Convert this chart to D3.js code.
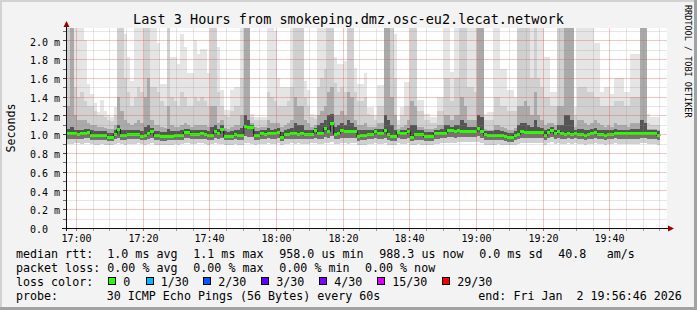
<!DOCTYPE html>
<html><head><meta charset="utf-8">
<script src="https://cdn.jsdelivr.net/npm/d3@7"></script>
<style>
html,body{margin:0;padding:0;background:#f3f3f3;}
svg{display:block;}
text{font-family:"DejaVu Sans Mono",monospace;white-space:pre;fill:#000;}
</style></head><body>
<svg id="c" width="697" height="310"></svg>
<script>
// ---- data (ms), one value per minute column from 16:57 ----
const medianRtt = [1.003,1.003,1.003,0.999,1.010,1.013,1.020,0.990,0.988,0.984,
0.984,0.984,0.967,0.967,0.999,1.049,0.988,0.988,0.999,0.999,
0.999,0.999,0.981,0.990,1.003,1.024,0.984,0.984,0.977,0.977,
0.981,0.981,0.985,0.988,0.990,1.017,1.017,0.999,0.999,0.999,
1.003,1.000,0.984,0.990,1.027,1.013,1.050,0.981,0.981,0.981,
1.000,0.988,0.988,1.084,1.070,1.070,0.990,0.990,1.003,0.999,
1.013,1.003,1.010,1.020,0.967,0.999,0.999,1.003,1.003,0.999,
1.006,0.995,0.995,0.999,1.038,1.010,1.010,1.060,1.034,1.115,
0.999,1.013,1.041,1.031,1.031,1.024,1.024,0.977,0.988,0.988,
0.999,0.999,1.024,1.006,1.006,1.041,0.995,0.977,0.977,1.017,
1.003,1.003,1.024,0.970,0.992,0.992,0.992,0.974,0.974,0.977,
1.006,1.006,1.013,1.013,1.041,1.041,1.027,1.038,1.031,1.031,
1.027,1.027,1.027,1.056,1.024,0.992,0.988,0.988,0.988,0.984,
0.984,0.974,0.960,0.963,0.985,0.999,1.024,1.017,1.017,1.017,
1.017,1.017,1.017,0.984,1.017,1.045,1.003,1.027,1.006,0.999,
1.013,0.995,1.013,0.999,0.999,0.984,0.999,1.006,1.020,0.999,
0.999,0.988,0.999,0.999,1.013,1.003,1.003,1.003,1.003,1.003,
1.003,1.003,1.013,1.010,1.003,1.003,1.003,0.988];

const minRtt = [.90,.90,.91,.91,.90,.91,.91,.90,.89,.89,
.90,.89,.88,.88,.90,.91,.90,.89,.90,.90,
.90,.91,.90,.89,.90,.91,.89,.89,.88,.89,
.89,.89,.90,.89,.90,.91,.91,.90,.90,.91,
.91,.90,.89,.90,.91,.90,.90,.89,.89,.89,
.90,.89,.89,.91,.91,.90,.89,.90,.90,.90,
.91,.90,.90,.91,.88,.90,.90,.91,.90,.91,
.90,.90,.90,.91,.91,.90,.90,.91,.91,.92,
.90,.90,.91,.91,.90,.91,.91,.88,.89,.89,
.90,.90,.91,.90,.90,.91,.89,.88,.88,.91,
.90,.90,.91,.89,.89,.90,.89,.89,.88,.88,
.90,.90,.91,.91,.91,.91,.91,.92,.92,.92,
.92,.92,.92,.92,.91,.89,.89,.89,.89,.90,
.89,.88,.88,.88,.89,.90,.91,.91,.91,.91,
.91,.91,.91,.89,.91,.92,.90,.91,.90,.90,
.91,.90,.91,.90,.90,.89,.90,.90,.91,.90,
.90,.89,.90,.90,.91,.90,.90,.90,.90,.90,
.90,.90,.91,.91,.90,.90,.90,.89];

const lowRtt = [.95,.95,.95,.95,.95,.96,.96,.94,.94,.94,
.94,.94,.93,.93,.95,.96,.94,.94,.95,.95,
.95,.95,.94,.94,.95,.96,.94,.94,.93,.93,
.94,.94,.94,.94,.94,.96,.96,.95,.95,.95,
.95,.95,.94,.94,.96,.95,.96,.94,.94,.94,
.95,.94,.94,.98,.97,.97,.94,.94,.95,.95,
.96,.95,.95,.96,.93,.95,.95,.95,.95,.95,
.95,.95,.95,.95,.96,.95,.95,.97,.96,.98,
.95,.95,.96,.96,.96,.96,.96,.93,.94,.94,
.95,.95,.96,.95,.95,.96,.94,.93,.93,.96,
.95,.95,.96,.93,.94,.94,.94,.93,.93,.93,
.95,.95,.96,.96,.97,.97,.96,.97,.97,.97,
.97,.97,.97,.98,.96,.94,.94,.94,.94,.94,
.94,.93,.92,.92,.94,.95,.96,.96,.96,.96,
.96,.96,.96,.94,.96,.97,.95,.96,.95,.95,
.96,.95,.96,.95,.95,.94,.95,.95,.96,.95,
.95,.94,.95,.95,.96,.95,.95,.95,.95,.95,
.95,.95,.96,.96,.95,.95,.95,.94];

const upper1 = [1.06,1.08,1.05,1.04,1.05,1.06,1.06,1.04,1.03,1.03,
1.03,1.03,1.01,1.01,1.04,1.1,1.05,1.04,1.04,1.04,
1.05,1.05,1.03,1.08,1.1,1.07,1.03,1.03,1.02,1.02,
1.06,1.03,1.03,1.03,1.04,1.06,1.06,1.04,1.05,1.05,
1.05,1.05,1.03,1.08,1.1,1.06,1.1,1.03,1.02,1.03,
1.05,1.04,1.07,1.2,1.15,1.1,1.03,1.03,1.05,1.05,
1.07,1.05,1.06,1.07,1.02,1.05,1.06,1.07,1.12,1.1,
1.1,1.05,1.05,1.04,1.07,1.1,1.12,1.15,1.2,1.22,
1.08,1.1,1.12,1.1,1.15,1.12,1.08,1.04,1.04,1.05,
1.04,1.04,1.06,1.06,1.06,1.2,1.15,1.1,1.05,1.03,
1.05,1.05,1.07,1.1,1.1,1.04,1.04,1.02,1.02,1.02,
1.04,1.05,1.06,1.1,1.1,1.08,1.1,1.1,1.15,1.12,
1.08,1.08,1.08,1.2,1.18,1.03,1.03,1.03,1.05,1.05,
1.03,1.02,1.01,1.01,1.03,1.1,1.12,1.12,1.1,1.08,
1.15,1.08,1.07,1.05,1.06,1.08,1.05,1.1,1.1,1.2,
1.2,1.15,1.05,1.06,1.06,1.04,1.05,1.06,1.07,1.05,
1.05,1.04,1.05,1.05,1.06,1.05,1.05,1.05,1.05,1.06,
1.06,1.06,1.15,1.12,1.04,1.04,1.04,1.03];

const upper2 = [1.3,2.3,1.2,1.15,1.15,1.15,1.12,1.1,1.1,1.08,
1.08,1.07,1.06,1.06,1.1,1.4,1.25,1.15,1.12,1.1,
1.12,1.15,1.12,1.4,1.6,1.15,1.1,1.1,1.08,1.07,
1.3,1.1,1.08,1.08,1.1,1.12,1.1,1.08,1.1,1.1,
1.1,1.1,1.08,1.3,1.3,1.12,1.15,1.07,1.06,1.08,
1.1,1.1,1.2,2.3,2.3,1.12,1.08,1.07,1.08,1.08,
1.15,1.12,1.12,1.12,1.08,1.1,1.12,1.15,1.4,1.3,
1.3,1.15,1.12,1.08,1.1,1.2,1.25,1.3,1.45,1.5,
1.2,1.2,1.25,1.2,1.45,1.4,1.15,1.1,1.1,1.12,
1.08,1.08,1.08,1.12,1.12,2.3,2.3,1.4,1.2,1.06,
1.08,1.1,1.15,1.35,1.3,1.08,1.08,1.06,1.06,1.06,
1.07,1.1,1.1,1.2,1.2,1.15,1.2,1.2,1.4,1.3,
1.15,1.15,1.15,2.3,2.3,1.06,1.05,1.05,1.1,1.1,
1.08,1.07,1.05,1.05,1.07,1.3,1.3,1.35,1.3,1.2,
1.45,1.2,1.15,1.1,1.12,1.12,1.1,1.3,1.3,2.3,
2.3,2.3,1.08,1.15,1.15,1.12,1.1,1.12,1.15,1.12,
1.1,1.08,1.1,1.08,1.12,1.1,1.1,1.1,1.08,1.12,
1.12,1.12,2.3,2.3,1.06,1.06,1.06,1.05];

const upper3 = [2.3,2.3,1.5,1.4,1.45,1.35,1.3,1.3,1.25,1.2,
1.2,1.18,1.15,1.14,1.2,2.3,2.3,1.6,1.45,1.3,
1.4,1.5,1.45,2.3,2.3,1.5,1.5,1.45,1.35,1.3,
2.3,1.4,1.35,1.3,1.45,1.4,1.3,1.3,1.4,1.35,
1.4,1.35,1.3,2.3,2.3,1.45,1.3,1.2,1.18,1.25,
1.3,1.3,1.6,2.3,2.3,1.18,1.15,1.15,1.15,1.15,
1.45,1.4,1.35,1.3,1.3,1.3,1.35,1.5,2.3,2.3,
2.3,1.4,1.3,1.18,1.16,1.5,1.6,1.7,2.3,2.3,
1.55,1.45,1.5,1.45,2.3,2.3,1.45,1.35,1.35,1.4,
1.22,1.2,1.15,1.3,1.3,2.3,2.3,2.3,1.6,1.1,
1.2,1.3,1.3,2.3,2.3,1.25,1.25,1.15,1.15,1.12,
1.12,1.25,1.25,1.6,1.6,1.35,1.6,1.6,2.3,2.3,
1.5,1.5,1.45,2.3,2.3,1.15,1.15,1.15,1.4,1.4,
1.3,1.3,1.25,1.25,1.25,2.3,2.3,2.3,2.3,1.6,
2.3,1.6,1.5,1.4,1.4,1.3,1.3,2.3,2.3,2.3,
2.3,2.3,1.2,1.5,1.5,1.5,1.45,1.45,1.4,1.4,
1.3,1.3,1.3,1.3,1.35,1.35,1.35,1.3,1.3,1.4,
1.4,1.4,2.3,2.3,1.12,1.1,1.1,1.1];

const maxRtt = [2.3,2.3,2.3,2.3,2.3,2.0,1.54,1.43,1.33,1.24,
1.36,1.25,1.2,1.18,1.29,2.3,2.3,2.07,1.82,1.57,
2.3,2.3,2.3,2.3,2.3,2.3,2.3,1.97,1.54,1.54,
2.3,1.82,1.82,1.75,2.07,1.93,1.65,1.65,2.0,1.86,
1.91,1.91,1.65,2.3,2.3,1.93,1.47,1.26,1.26,1.47,
1.5,1.5,2.3,2.3,2.3,1.22,1.18,1.18,1.18,1.18,
2.3,2.3,2.1,1.6,1.5,1.5,1.5,2.3,2.3,2.3,
2.3,1.57,1.47,1.22,1.2,2.3,2.3,2.3,2.3,2.3,
1.82,1.75,1.75,1.78,2.3,2.3,1.71,1.54,1.54,1.65,
1.29,1.29,1.2,1.52,1.52,2.3,2.3,2.3,2.07,1.15,
1.29,1.56,1.56,2.3,2.3,1.36,1.36,1.22,1.22,1.18,
1.18,1.4,1.4,2.2,2.2,1.66,2.3,2.3,2.3,2.3,
2.3,2.3,2.3,2.3,2.3,1.22,1.24,1.24,2.3,2.3,
1.7,1.7,1.47,1.47,1.4,2.3,2.3,2.3,2.3,2.3,
2.3,2.3,2.3,1.82,1.82,1.45,1.45,2.3,2.3,2.3,
2.3,2.3,1.29,2.3,2.3,2.3,2.3,2.3,1.97,1.97,
1.45,1.5,1.5,1.43,1.6,1.6,1.6,1.45,1.45,1.86,
1.86,1.86,2.3,2.3,1.22,1.18,1.18,1.18];

const yTickValues = [0,0.2,0.4,0.6,0.8,1.0,1.2,1.4,1.6,1.8,2.0];
const xTickLabels = ["17:00","17:20","17:40","18:00","18:20","18:40","19:00","19:20","19:40"];
const lossLabels = ["0","1/30","2/30","3/30","4/30","15/30","29/30"];
const lossColors = ["#26ff00","#00b8ff","#0059ff","#5e00ff","#7e00ff","#dd00ff","#ff0000"];
const rttStats = ["1.0 ms avg","1.1 ms max","958.0 us min","988.3 us now","0.0 ms sd","40.8","am/s"];
const lossStats = ["0.00 % avg","0.00 % max","0.00 % min","0.00 % now"];

// ---- drawing ----
const svg = d3.select("#c");
const X0 = 67, X1 = 667, Y0 = 228, Y1 = 28;
const startTime = new Date(2026,0,2,16,57,0), endTime = new Date(2026,0,2,19,57,0);
const x = d3.scaleTime().domain([startTime,endTime]).range([X0,X1]);
const y = d3.scaleLinear().domain([0,2.133333]).range([Y0,Y1]);

svg.append("rect").attr("width",697).attr("height",310).attr("fill","#f3f3f3");
svg.append("rect").attr("x",0).attr("y",0).attr("width",697).attr("height",2).attr("fill","#d2d2d2");
svg.append("rect").attr("x",0).attr("y",0).attr("width",2).attr("height",310).attr("fill","#d2d2d2");
svg.append("rect").attr("x",0).attr("y",307).attr("width",697).attr("height",3).attr("fill","#a2a2a2");
svg.append("rect").attr("x",694).attr("y",0).attr("width",3).attr("height",310).attr("fill","#a2a2a2");

svg.append("rect").attr("x",X0).attr("y",Y1).attr("width",X1-X0).attr("height",Y0-Y1).attr("fill","#fff");
svg.append("defs").append("clipPath").attr("id","cp").append("rect")
  .attr("x",X0).attr("y",Y1).attr("width",X1-X0).attr("height",Y0-Y1);

const plot = svg.append("g").attr("clip-path","url(#cp)");
const layers = [
  [minRtt, lowRtt, "#d0d0d0"],
  [lowRtt, medianRtt, "#727272"],
  [medianRtt, upper1, "#555555"],
  [upper1, upper2, "#aaaaaa"],
  [upper2, upper3, "#d0d0d0"],
  [upper3, maxRtt, "#e5e5e5"]
];
const cols = d3.range(medianRtt.length);
const cx0 = k => x(d3.timeMinute.offset(startTime,k));
const cx1 = k => x(d3.timeMinute.offset(startTime,k+1));
layers.forEach(([lo,hi,col]) => {
  plot.append("g").attr("shape-rendering","crispEdges").selectAll("rect")
    .data(cols.filter(k => hi[k] > lo[k])).join("rect")
    .attr("x",k=>cx0(k)).attr("width",k=>cx1(k)-cx0(k))
    .attr("y",k=>y(hi[k])).attr("height",k=>y(lo[k])-y(hi[k]))
    .attr("fill",col);
});

// median: dark step line + green loss-colour band
const stepPts = [];
cols.forEach(k => { stepPts.push([cx0(k), y(medianRtt[k])]); stepPts.push([cx1(k), y(medianRtt[k])]); });
plot.append("path").attr("d", d3.line()(stepPts)).attr("fill","none")
  .attr("stroke","#202020").attr("stroke-width",1.2);
plot.append("g").attr("shape-rendering","crispEdges").selectAll("rect").data(cols).join("rect")
  .attr("x",k=>cx0(k)).attr("width",k=>cx1(k)-cx0(k))
  .attr("y",k=>y(medianRtt[k])-1.5).attr("height",3).attr("fill",lossColors[0]);

// grid: faint lines drawn over the data
const g = svg.append("g").attr("shape-rendering","crispEdges");
const yMinor = y.ticks(20).filter(v => v > 0);
const isMajorY = v => Math.abs(v*5 - Math.round(v*5)) < 1e-6;
yMinor.forEach(v => {
  const major = isMajorY(v);
  const row = Math.round(y(v));
  g.append("rect").attr("x",X0).attr("y",row).attr("width",X1-X0).attr("height",1)
    .attr("fill", major ? "#de5050" : "#8f8f8f").attr("fill-opacity", major ? 0.34 : 0.22);
  g.append("rect").attr("x",X0-4).attr("y",row).attr("width",4).attr("height",1)
    .attr("fill", major ? "#404040" : "#707070");
});
const xMinor = x.ticks(d3.timeMinute.every(5));
xMinor.forEach(t => {
  const major = t.getMinutes() % 20 === 0;
  const col = Math.round(x(t)) - 1;
  g.append("rect").attr("x",col).attr("y",Y1).attr("width",1).attr("height",Y0-Y1)
    .attr("fill", major ? "#de5050" : "#8f8f8f").attr("fill-opacity", major ? 0.34 : 0.22);
  g.append("rect").attr("x",col).attr("y",Y0+1).attr("width",1).attr("height",2)
    .attr("fill", major ? "#de5050" : "#a0a0a0");
});

// axes lines + arrows
g.append("rect").attr("x",66).attr("y",24).attr("width",1).attr("height",Y0+3-24).attr("fill","#101010");
g.append("rect").attr("x",62).attr("y",228).attr("width",606).attr("height",1).attr("fill","#101010");
svg.append("path").attr("d","M63.5,27L69.5,27L66.5,21Z").attr("fill","#a10000");
svg.append("path").attr("d","M668,225.5L668,231.5L674,228.5Z").attr("fill","#a10000");

// axis labels via d3 axes
const yAxis = d3.axisLeft(y).tickValues(yTickValues).tickSize(0).tickPadding(7)
  .tickFormat(d => d === 0 ? "0.0\u00a0\u00a0" : d3.format(".1f")(d) + " m");
const ya = svg.append("g").attr("transform",`translate(${X0},0)`).call(yAxis);
ya.select(".domain").remove();
ya.selectAll("text").attr("font-family","DejaVu Sans Mono").attr("font-size","10px").attr("dy","0.46em").attr("fill","#000");

const xAxis = d3.axisBottom(x).ticks(d3.timeMinute.every(20)).tickSize(0)
  .tickFormat((d,i) => xTickLabels[i]);
const xa = svg.append("g").attr("transform",`translate(0,${Y0})`).call(xAxis);
xa.select(".domain").remove();
xa.selectAll("text").attr("font-family","DejaVu Sans Mono").attr("font-size","10px").attr("y",6.6).attr("dy","0.71em").attr("fill","#000");
xa.selectAll(".tick").attr("transform", d => `translate(${Math.round(x(d))-0.5},0)`);

// titles
const txt = (xx,yy,s,size,opts={}) => {
  const t = svg.append("text").attr("x",xx).attr("y",yy).attr("font-size",size+"px").text(s);
  if (opts.anchor) t.attr("text-anchor",opts.anchor);
  if (opts.fill) t.attr("fill",opts.fill);
  if (opts.transform) t.attr("transform",opts.transform);
  return t;
};
txt(348.5,23.5,"Last 3 Hours from smokeping.dmz.osc-eu2.lecat.network",13.5,{anchor:"middle"});
txt(0,0,"Seconds",11.67,{anchor:"middle",transform:"translate(15,128) rotate(-90)"});
txt(0,0,"RRDTOOL / TOBI OETIKER",8.5,{fill:"#a8a8a8",transform:"translate(685,5) rotate(90)"});

// legend
const F = 11.67;
txt(16,258.4,"median rtt:",F);
[107.3,193.3,279.3,379.3,479.3,558.3,606.7].forEach((xx,i)=>txt(xx,258.4,rttStats[i],F));
txt(16,272.4,"packet loss:",F);
[107.3,193.3,279.3,365].forEach((xx,i)=>txt(xx,272.4,lossStats[i],F));
txt(16,286.4,"loss color:",F);
const sqX = [108.3,145.7,203.3,261.3,319.3,377.3,442.3];
sqX.forEach((xx,i) => {
  svg.append("rect").attr("x",Math.round(xx)+0.5).attr("y",277.5).attr("width",7).attr("height",7)
    .attr("fill",lossColors[i]).attr("stroke","#000").attr("stroke-width",1);
  txt(xx+15,286.4,lossLabels[i],F);
});
txt(16,300.2,"probe:",F);
txt(106.7,300.2,"30 ICMP Echo Pings (56 Bytes) every 60s",F);
txt(478.3,300.2,"end: Fri Jan  2 19:56:46 2026",F);
</script>
</body></html>
